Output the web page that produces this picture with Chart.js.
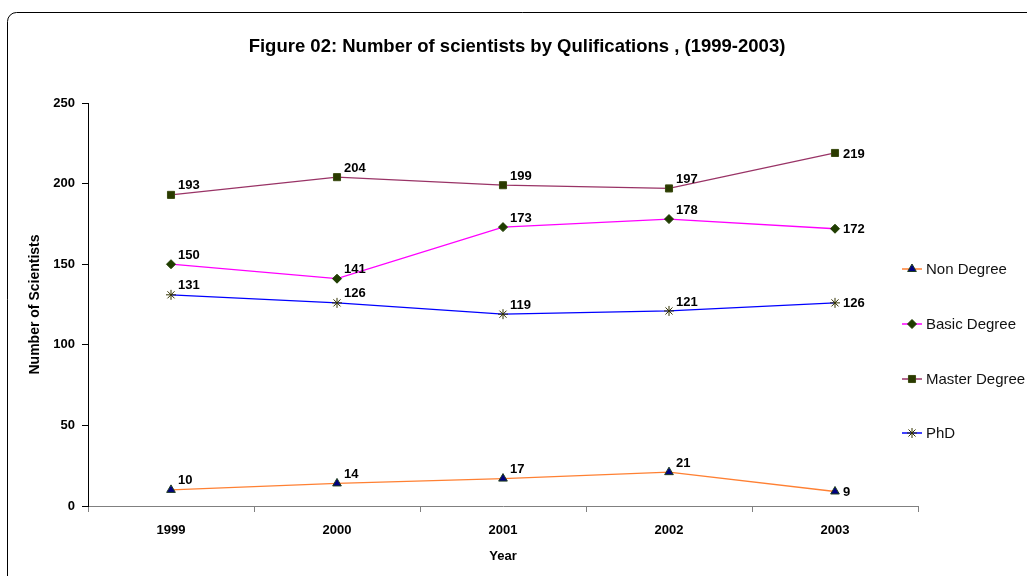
<!DOCTYPE html>
<html>
<head>
<meta charset="utf-8">
<script src="https://cdn.jsdelivr.net/npm/chart.js@4/dist/chart.umd.min.js"></script>
<style>
  html, body { margin:0; padding:0; background:#fff; }
  #wrap { width:1027px; height:576px; }
</style>
</head>
<body>
<div id="wrap"><canvas id="c" width="1027" height="576"></canvas></div>
<script>
// data
const years = ['1999', '2000', '2001', '2002', '2003'];
const nonDegree = [10, 14, 17, 21, 9];
const basicDegree = [150, 141, 173, 178, 172];
const masterDegree = [193, 204, 199, 197, 219];
const phd = [131, 126, 119, 121, 126];
const yTicks = [0, 50, 100, 150, 200, 250];

const FONT = "Arial, 'Liberation Sans', sans-serif";

// frame + title + legend + value labels
const extras = {
  id: 'extras',
  beforeDraw(chart) {
    const ctx = chart.ctx;
    ctx.save();
    ctx.fillStyle = '#fff';
    ctx.fillRect(0, 0, chart.width, chart.height);
    ctx.strokeStyle = '#000';
    ctx.lineWidth = 1;
    ctx.beginPath();
    ctx.roundRect(7.5, 12.5, 1060, 620, 9);
    ctx.stroke();
    ctx.restore();
  },
  afterDraw(chart) {
    const ctx = chart.ctx;
    ctx.save();
    ctx.fillStyle = '#000';
    ctx.font = 'bold 18.5px ' + FONT;
    ctx.textAlign = 'center';
    ctx.textBaseline = 'middle';
    ctx.fillText('Figure 02: Number of scientists by Qulifications , (1999-2003)', 517, 47);

    // value labels
    ctx.font = 'bold 13px ' + FONT;
    ctx.textAlign = 'left';
    chart.data.datasets.forEach((ds, i) => {
      chart.getDatasetMeta(i).data.forEach((pt, j) => {
        const last = j === ds.data.length - 1;
        const x = last ? pt.x + 8 : pt.x + 7;
        const y = last ? pt.y + 1 : pt.y - 9;
        ctx.fillText(String(ds.data[j]), x, y);
      });
    });

    // legend
    const rows = [269, 324, 379, 433];
    ctx.font = '15px ' + FONT;
    chart.data.datasets.forEach((ds, i) => {
      const y = rows[i];
      ctx.strokeStyle = ds.borderColor;
      ctx.lineWidth = 1.5;
      ctx.beginPath();
      ctx.moveTo(902, y);
      ctx.lineTo(922, y);
      ctx.stroke();
      ctx.fillStyle = ds.pointBackgroundColor;
      ctx.strokeStyle = ds.pointBorderColor;
      ctx.lineWidth = 1;
      Chart.helpers.drawPoint(ctx, {pointStyle: ds.pointStyle, rotation: 0, radius: ds.pointRadius, borderWidth: 1}, 912, y);
      ctx.fillStyle = '#111';
      ctx.fillText(ds.label, 926, y + 1);
    });
    ctx.restore();
  }
};

new Chart(document.getElementById('c'), {
  type: 'line',
  data: {
    labels: years,
    datasets: [
      { label: 'Non Degree', data: nonDegree, borderColor: '#ff8033', pointStyle: 'triangle',
        pointRadius: 5, pointBackgroundColor: '#000080', pointBorderColor: '#1f3d1f' },
      { label: 'Basic Degree', data: basicDegree, borderColor: '#ff00ff', pointStyle: 'rectRot',
        pointRadius: 4.5, pointBackgroundColor: '#1f3d00', pointBorderColor: '#1f3d00' },
      { label: 'Master Degree', data: masterDegree, borderColor: '#993366', pointStyle: 'rect',
        pointRadius: 5, pointBackgroundColor: '#2a3a00', pointBorderColor: '#3a4a10' },
      { label: 'PhD', data: phd, borderColor: '#0000ff', pointStyle: 'star',
        pointRadius: 5, pointBackgroundColor: '#333300', pointBorderColor: '#333300' }
    ].map(d => Object.assign(d, { borderWidth: 1.3, tension: 0, pointBorderWidth: 1, fill: false }))
  },
  options: {
    responsive: false,
    animation: false,
    devicePixelRatio: 1,
    layout: { padding: { top: 103, right: 109, left: 20, bottom: 0 } },
    plugins: { legend: { display: false }, title: { display: false }, tooltip: { enabled: false } },
    scales: {
      x: {
        type: 'category',
        offset: true,
        grid: { offset: true, drawOnChartArea: false, tickLength: 6, color: '#808080' },
        border: { color: '#808080', width: 1 },
        ticks: { color: '#000', font: { family: FONT, size: 13, weight: 'bold' }, padding: 11, maxRotation: 0 },
        title: { display: true, text: 'Year', color: '#000', font: { family: FONT, size: 13, weight: 'bold' }, padding: { top: 0, bottom: 12 } },
        afterFit(s) { s.height = 70; }
      },
      y: {
        min: 0, max: 250,
        afterBuildTicks(s) { s.ticks = yTicks.map(v => ({ value: v })); },
        grid: { drawOnChartArea: false, tickLength: 6, color: '#000' },
        border: { color: '#000', width: 1 },
        ticks: { color: '#000', font: { family: FONT, size: 13, weight: 'bold' }, padding: 7 },
        title: { display: true, text: 'Number of Scientists', color: '#000', font: { family: FONT, size: 14, weight: 'bold' }, padding: { top: 7, bottom: 0 } },
        afterFit(s) { s.width = 68; }
      }
    }
  },
  plugins: [extras]
});
</script>
</body>
</html>
